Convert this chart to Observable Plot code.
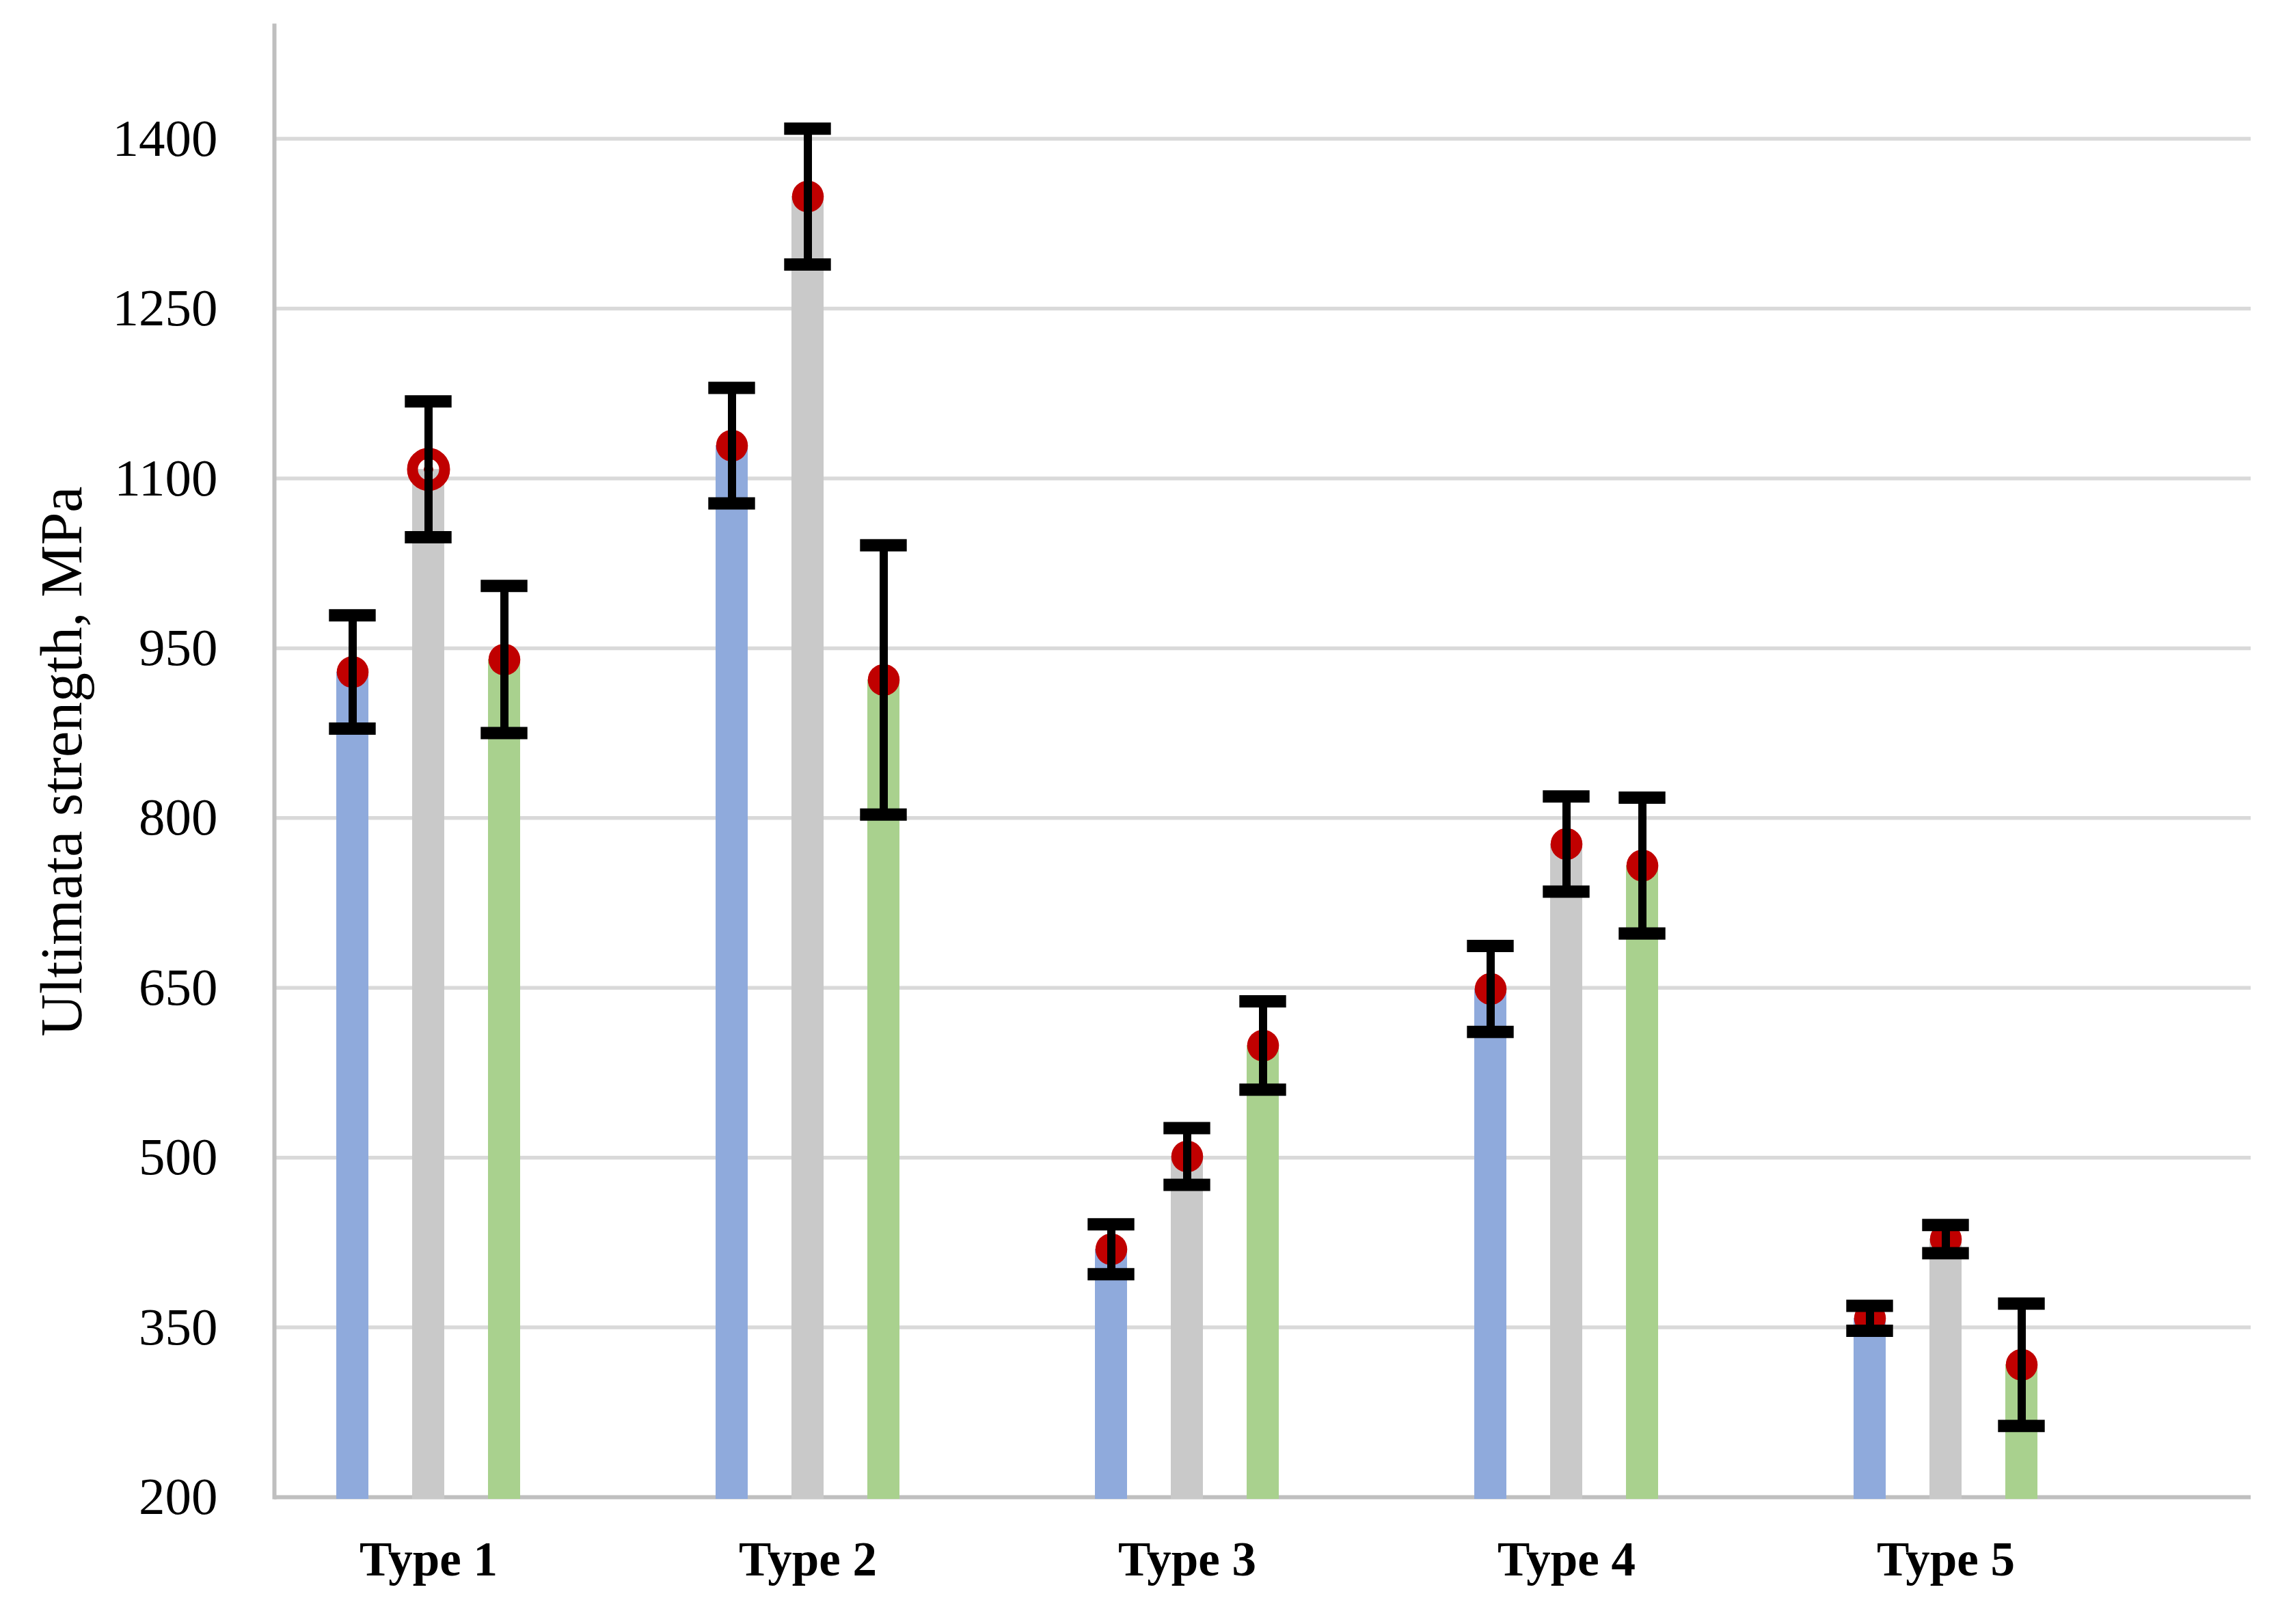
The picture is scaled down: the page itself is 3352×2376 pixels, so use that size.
<!DOCTYPE html>
<html>
<head>
<meta charset="utf-8">
<script src="https://cdn.jsdelivr.net/npm/d3@7"></script>
<script src="https://cdn.jsdelivr.net/npm/@observablehq/plot@0.6"></script>
<style>
  html, body { margin: 0; padding: 0; background: #ffffff; overflow: hidden; }
  #chart svg { display: block; }
</style>
</head>
<body>
<div id="chart"></div>
<script>
// ---- data ----
const types = ["Type 1", "Type 2", "Type 3", "Type 4", "Type 5"];
const seriesNames = ["Series 1", "Series 2", "Series 3"];
const yTicks = [200, 350, 500, 650, 800, 950, 1100, 1250, 1400];
const yTitle = "Ultimata strength, MPa";

const series1Mean = [929, 1129, 419, 649, 358];
const series2Mean = [1108, 1349, 501, 777, 428];
const series3Mean = [940, 922, 599, 758, 317];

const series1Err = [50, 51, 22, 38, 11];
const series2Err = [60, 60, 25, 42, 12.5];
const series3Err = [65, 119, 39, 60, 54];

// ---- build table ----
const means = [series1Mean, series2Mean, series3Mean];
const errs = [series1Err, series2Err, series3Err];
const key = (t, s) => t + "|" + s;
const data = [];
types.forEach((t, i) => {
  seriesNames.forEach((s, j) => {
    data.push({type: t, series: s, key: key(t, s), mean: means[j][i], err: errs[j][i]});
  });
});
// slot domain: three bars then two empty slots per type
const slots = types.flatMap(t => [...seriesNames.map(s => key(t, s)), key(t, "_gap1"), key(t, "_gap2")]);

const barColors = ["#8FAADC", "#C9C9C9", "#A9D18E"];
const isHollow = d => d.type === "Type 1" && d.series === "Series 2";

const chart = Plot.plot({
  width: 3352,
  height: 2376,
  marginLeft: 401,
  marginRight: 59,
  marginTop: 37,
  marginBottom: 186,
  style: {fontFamily: "'Liberation Serif', 'Times New Roman', serif", background: "#ffffff", color: "#000000"},
  x: {type: "band", domain: slots, paddingInner: 0.58, paddingOuter: 0.79, align: 0.5},
  y: {domain: [200, 1500]},
  color: {domain: seriesNames, range: barColors},
  marks: [
    Plot.ruleY(yTicks.filter(v => v !== 200), {stroke: "#D9D9D9", strokeWidth: 5.5}),
    Plot.ruleY([200], {stroke: "#BFBFBF", strokeWidth: 6}),
    Plot.frame({anchor: "left", stroke: "#BFBFBF", strokeWidth: 6}),
    Plot.barY(data, {x: "key", y1: 200, y2: "mean", fill: "series", insetBottom: -3}),
    Plot.dot(data.filter(d => !isHollow(d)), {x: "key", y: "mean", r: 23.3, fill: "#C00000", stroke: "none"}),
    Plot.dot(data.filter(isHollow), {x: "key", y: "mean", r: 23.5, fill: "none", stroke: "#C00000", strokeWidth: 16}),
    Plot.dot(data.filter(isHollow), {x: "key", y: "mean", r: 7, fill: "#C00000", stroke: "none"}),
    Plot.ruleX(data, {x: "key", y1: d => d.mean - d.err, y2: d => d.mean + d.err, stroke: "#000000", strokeWidth: 12}),
    Plot.tickY(data, {x: "key", y: d => d.mean + d.err, stroke: "#000000", strokeWidth: 18, insetLeft: -10.7, insetRight: -10.7}),
    Plot.tickY(data, {x: "key", y: d => d.mean - d.err, stroke: "#000000", strokeWidth: 18, insetLeft: -10.7, insetRight: -10.7}),
    Plot.axisY({ticks: yTicks, tickFormat: d => String(d), tickSize: 0, tickPadding: 83, fontSize: 77, label: null}),
    Plot.axisX({ticks: types.map(t => key(t, "Series 2")), tickFormat: k => k.split("|")[0], tickSize: 0, tickPadding: 64, fontSize: 71, fontWeight: "bold", label: null}),
    Plot.text([yTitle], {text: d => d, frameAnchor: "left", rotate: -90, dx: -283, lineAnchor: "bottom", textAnchor: "middle", fontSize: 86, fill: "#000000"})
  ]
});
document.getElementById("chart").appendChild(chart);
</script>
</body>
</html>
